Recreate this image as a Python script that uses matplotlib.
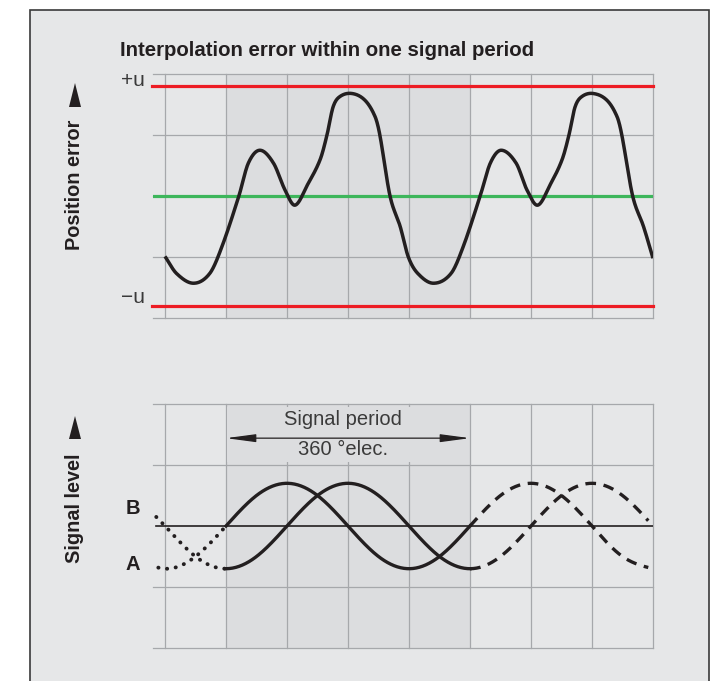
import numpy as np
import matplotlib.pyplot as plt
from matplotlib.patches import Rectangle, Polygon

# Grid positions (electrical degrees) and grid levels
grid_x = [-90, 0, 90, 180, 270, 360, 450, 540, 630]
grid_y = [-2, -1, 0, 1, 2]

# Interpolation error curve (deg, grid units)
err_deg = [-90, -73, -48, -24, -6, 19, 33, 50, 70, 87, 102, 121, 139, 149,
           158, 168, 186, 205, 220, 227, 242, 257, 269,
           283, 306, 332, 350, 375, 390, 406, 428, 444, 460, 479, 496, 506,
           515, 525, 542, 562, 577, 584, 600, 616, 630]
err_val = [-0.99, -1.27, -1.43, -1.27, -0.83, 0.0, 0.54, 0.75, 0.54, 0.1,
           -0.15, 0.2, 0.6, 1.0, 1.46, 1.63, 1.68, 1.57, 1.30, 1.0, 0.0,
           -0.5, -1.0,
           -1.27, -1.43, -1.27, -0.83, 0.0, 0.54, 0.75, 0.54, 0.1, -0.15,
           0.2, 0.6, 1.0, 1.46, 1.63, 1.68, 1.57, 1.30, 1.0, 0.0, -0.5, -1.02]
u_level = 1.8

# Signals A and B read every 45 deg
sig_deg = list(range(-135, 631, 45))
sig_a = [-0.5, -0.7, -0.5, 0.0, 0.5, 0.7, 0.5, 0.0, -0.5, -0.7, -0.5, 0.0,
         0.5, 0.7, 0.5, 0.0, -0.5, -0.7]
sig_b = [0.5, 0.0, -0.5, -0.7, -0.5, 0.0, 0.5, 0.7, 0.5, 0.0, -0.5, -0.7,
         -0.5, 0.0, 0.5, 0.7, 0.5, 0.0]

BG = '#e6e7e8'
SHADE = '#dcdddf'
GRID = '#a6a8ab'
INK = '#231f20'
W, H = 719, 681
FONT = 'Liberation Sans'


def spline(xs, ys, xn):
    # natural cubic spline through the read points
    xs = np.asarray(xs, float)
    ys = np.asarray(ys, float)
    n = len(xs)
    h = np.diff(xs)
    A = np.zeros((n, n))
    r = np.zeros(n)
    A[0, 0] = A[-1, -1] = 1
    for i in range(1, n - 1):
        A[i, i - 1] = h[i - 1]
        A[i, i] = 2 * (h[i - 1] + h[i])
        A[i, i + 1] = h[i]
        r[i] = 6 * ((ys[i + 1] - ys[i]) / h[i] - (ys[i] - ys[i - 1]) / h[i - 1])
    M = np.linalg.solve(A, r)
    k = np.clip(np.searchsorted(xs, xn) - 1, 0, n - 2)
    t = xn - xs[k]
    hk = h[k]
    b = (ys[k + 1] - ys[k]) / hk - hk * (2 * M[k] + M[k + 1]) / 6
    return ys[k] + b * t + M[k] / 2 * t ** 2 + (M[k + 1] - M[k]) / (6 * hk) * t ** 3


def catmull(xs, ys, xn):
    # local cubic Hermite with central-difference tangents
    xs = np.asarray(xs, float)
    ys = np.asarray(ys, float)
    h = np.diff(xs)
    m = np.empty(len(xs))
    m[1:-1] = (ys[2:] - ys[:-2]) / (xs[2:] - xs[:-2])
    m[0] = (ys[1] - ys[0]) / h[0]
    m[-1] = (ys[-1] - ys[-2]) / h[-1]
    k = np.clip(np.searchsorted(xs, xn) - 1, 0, len(xs) - 2)
    t = (xn - xs[k]) / h[k]
    h00 = 2 * t ** 3 - 3 * t ** 2 + 1
    h10 = t ** 3 - 2 * t ** 2 + t
    h01 = -2 * t ** 3 + 3 * t ** 2
    h11 = t ** 3 - t ** 2
    return h00 * ys[k] + h10 * h[k] * m[k] + h01 * ys[k + 1] + h11 * h[k] * m[k + 1]


def fx(px):
    return px / W


def fy(py):
    return 1 - py / H


fig = plt.figure(figsize=(7.19, 6.81), dpi=100)
fig.patch.set_facecolor('white')
fig.add_artist(Rectangle((fx(30), -0.05), fx(679), fy(10) + 0.05,
                         transform=fig.transFigure, facecolor=BG,
                         edgecolor='#3a3a3a', lw=1.2, zorder=0))


def setup(ax):
    ax.set_facecolor('none')
    ax.set_xlim(-107.7, 630)
    ax.set_ylim(-2, 2)
    for s in ax.spines.values():
        s.set_visible(False)
    ax.set_xticks([])
    ax.set_yticks([])
    ax.axvspan(0, 360, color=SHADE, lw=0, zorder=0.5)
    for gx in grid_x:
        ax.axvline(gx, color=GRID, lw=0.9, zorder=1, clip_on=False)


# ---- top: interpolation error
ax1 = fig.add_axes([fx(153), fy(318), fx(500), 244 / H])
setup(ax1)
for gy in grid_y:
    ax1.axhline(gy, color=GRID, lw=0.9, zorder=1, clip_on=False)
ax1.plot([-109, 630], [u_level, u_level], color='#ed1c24', lw=2.3, zorder=2, clip_on=False)
ax1.plot([-109, 630], [-u_level, -u_level], color='#ed1c24', lw=2.3, zorder=2, clip_on=False)
ax1.plot([-107.7, 630], [0, 0], color='#3db65b', lw=2.3, zorder=2)
xe = np.linspace(err_deg[0], err_deg[-1], 1200)
ax1.plot(xe, catmull(err_deg, err_val, xe), color=INK, lw=2.5, zorder=3,
         solid_capstyle='butt')

# ---- bottom: signal level
ax2 = fig.add_axes([fx(153), fy(648), fx(500), 244 / H])
setup(ax2)
for gy in grid_y:
    if gy == 0:
        ax2.plot([-104, 630], [0, 0], color=INK, lw=1.2, zorder=2)
    else:
        ax2.axhline(gy, color=GRID, lw=0.9, zorder=1, clip_on=False)
ax2.add_patch(Rectangle((1.5, 1.05), 357, 0.9, facecolor=SHADE, lw=0, zorder=1.5))
ax2.annotate('', xy=(0, 1.44), xytext=(360, 1.44),
             arrowprops=dict(arrowstyle='<|-|>,head_length=1.2,head_width=0.16',
                             color=INK, lw=0.9, mutation_scale=15,
                             shrinkA=0, shrinkB=0), zorder=3)
ax2.text(173, 1.74, 'Signal period', ha='center', va='center', fontsize=14.5,
         family=FONT, color='#3a3a3a', zorder=3)
ax2.text(173, 1.25, '360 °elec.', ha='center', va='center', fontsize=14.5,
         family=FONT, color='#3a3a3a', zorder=3)

xs_dot = np.linspace(-112, 0, 80)
xs_sol = np.linspace(0, 360, 300)
xs_dash = np.linspace(360, 623, 220)
for sig in (sig_a, sig_b):
    ax2.plot(xs_dot, spline(sig_deg, sig, xs_dot), color=INK, lw=2.8,
             linestyle=(0, (0.05, 2.2)), dash_capstyle='round', zorder=3)
    ax2.plot(xs_sol, spline(sig_deg, sig, xs_sol), color=INK, lw=2.4, zorder=3)
    ax2.plot(xs_dash, spline(sig_deg, sig, xs_dash), color=INK, lw=2.4,
             linestyle=(0, (3.2, 2.3)), dash_capstyle='butt', zorder=3)

# ---- texts in figure space
fig.text(fx(120), fy(50), 'Interpolation error within one signal period',
         fontsize=14.7, fontweight='bold', family=FONT,
         color=INK, ha='left', va='center')
fig.text(fx(145), fy(80), '+u', fontsize=15, family=FONT,
         color='#3a3a3a', ha='right', va='center')
fig.text(fx(145), fy(297), '\u2212u', fontsize=15, family=FONT,
         color='#3a3a3a', ha='right', va='center')
fig.text(fx(75), fy(185), 'Position error', rotation=90, fontsize=14.3,
         fontweight='bold', family=FONT, color=INK,
         ha='center', va='center')
fig.text(fx(75), fy(508), 'Signal level', rotation=90, fontsize=14.3,
         fontweight='bold', family=FONT, color=INK,
         ha='center', va='center')
fig.text(fx(133), fy(508), 'B', fontsize=14.5, fontweight='bold',
         family=FONT, color=INK, ha='center', va='center')
fig.text(fx(133), fy(564), 'A', fontsize=14.5, fontweight='bold',
         family=FONT, color=INK, ha='center', va='center')
for top, bot in ((83, 107), (416, 439)):
    fig.add_artist(Polygon([(fx(75), fy(top)), (fx(69), fy(bot)), (fx(81), fy(bot))],
                           closed=True, transform=fig.transFigure,
                           facecolor=INK, edgecolor='none'))

fig.savefig('out.png', dpi=100)
